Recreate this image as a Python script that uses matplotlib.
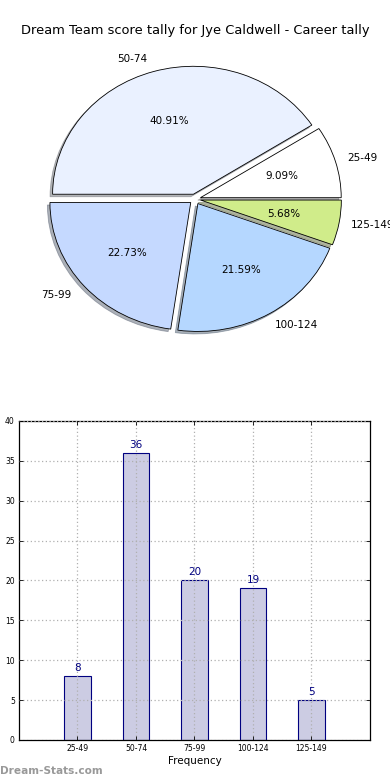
import matplotlib
matplotlib.use("Agg")
import matplotlib.pyplot as plt

title = "Dream Team score tally for Jye Caldwell - Career tally"
categories = ["25-49", "50-74", "75-99", "100-124", "125-149"]
counts = [8, 36, 20, 19, 5]
pie_colors = ["#FFFFFF", "#EAF1FF", "#C5D9FF", "#B5D7FF", "#D0EC8A"]
yticks = [0, 5, 10, 15, 20, 25, 30, 35, 40]

fig = plt.figure(figsize=(3.9, 7.8), dpi=100)

# Pie
ax1 = fig.add_axes([0.0487, 0.5397, 0.9026, 0.41])
wedges, texts, autotexts = ax1.pie(
    counts, labels=categories, colors=pie_colors, explode=[0.04] * len(counts),
    autopct="%1.2f%%", shadow=dict(ox=-0.013, oy=-0.014, shade=0.55),
    startangle=0, counterclock=True,
    wedgeprops=dict(edgecolor="black", linewidth=0.6),
    textprops=dict(fontsize=7.5))
ax1.set_aspect("auto")
ax1.set_xlim(-1.25, 1.25)
ax1.set_ylim(-1.25, 1.25)
for t in texts:
    x0, y0 = t.get_position()
    t.set_position((x0 - 0.015, y0))
fig.text(0.5, 0.961, title, ha="center", va="center", fontsize=9.4)

# Bars
ax2 = fig.add_axes([0.0487, 0.0513, 0.9, 0.409])
x = list(range(len(categories)))
bars = ax2.bar(x, counts, width=0.46, color="#CCCCE3", edgecolor="#000080",
               linewidth=0.8, zorder=2)
for xi, c in zip(x, counts):
    ax2.text(xi, c + 0.4, str(c), ha="center", va="bottom", fontsize=7.5,
             color="#000080", zorder=3)
ax2.set_xlim(-1, 5)
ax2.set_ylim(0, 40)
ax2.set_xticks(x)
ax2.set_xticklabels(categories)
ax2.set_yticks(yticks)
ax2.tick_params(direction="in", top=True, right=True, labelsize=5.5,
                length=3, width=0.6, pad=3)
ax2.grid(True, linestyle=(0, (1, 2)), color="#B0B0B0", linewidth=0.9, zorder=1)
ax2.set_axisbelow(False)
for s in ax2.spines.values():
    s.set_linewidth(0.9)
ax2.set_xlabel("Frequency", fontsize=7.5, labelpad=2)

fig.text(0.0, 0.0115, "Dream-Stats.com", fontsize=7.6, color="#999999",
         fontweight="bold", ha="left", va="center")

fig.savefig("out.png", dpi=100)
